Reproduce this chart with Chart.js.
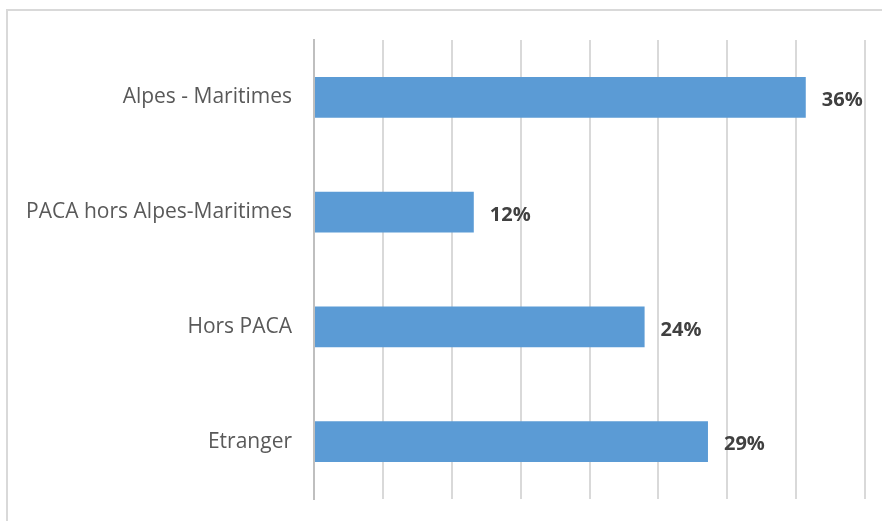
<!DOCTYPE html>
<html lang="fr">
<head>
    <meta charset="UTF-8">
    <title>Origine</title>
    <script src="https://cdn.jsdelivr.net/npm/chart.js"></script>
    <style>
        body { margin: 0; background: #fff; }
        .wrap { position: relative; width: 882px; height: 521px; overflow: hidden; }
        .frame { position: absolute; left: 6px; top: 9px; width: 900px; height: 540px; border: 2px solid #d9d9d9; }
        canvas { position: absolute; left: 0; top: 0; }
    </style>
</head>
<body>
    <div class="wrap">
        <div class="frame"></div>
        <canvas id="bars" width="882" height="521"></canvas>
    </div>

    <script>
    // donnees
    const categories = ['Alpes - Maritimes', 'PACA hors Alpes-Maritimes', 'Hors PACA', 'Etranger'];
    const values = [35.7, 11.6, 24.0, 28.6];
    const valueLabels = ['36%', '12%', '24%', '29%'];

    // petits libelles a droite des barres
    const barLabels = {
        id: 'barLabels',
        afterDatasetsDraw(chart) {
            const ctx = chart.ctx;
            const meta = chart.getDatasetMeta(0);
            ctx.save();
            ctx.font = 'bold 20px "Open Sans"';
            ctx.fillStyle = '#404040';
            ctx.textBaseline = 'middle';
            meta.data.forEach((bar, i) => {
                ctx.fillText(valueLabels[i], bar.x + 16, bar.y + 3);
            });
            ctx.restore();
        }
    };

    new Chart(document.getElementById('bars'), {
        type: 'bar',
        data: {
            labels: categories,
            datasets: [{
                data: values,
                backgroundColor: '#5b9bd5',
                barPercentage: 0.357,
                categoryPercentage: 1
            }]
        },
        options: {
            indexAxis: 'y',
            responsive: false,
            animation: false,
            layout: { padding: { top: 40, right: 17, bottom: 22, left: 0 } },
            plugins: { legend: { display: false }, tooltip: { enabled: false } },
            scales: {
                x: {
                    min: 0,
                    max: 40,
                    ticks: { display: false, stepSize: 5 },
                    grid: { color: '#d9d9d9', lineWidth: 2, drawTicks: false },
                    border: { display: false },
                    afterFit(scale) { scale.height = 0; }
                },
                y: {
                    grid: { display: false, drawTicks: false },
                    border: { display: true, color: '#bfbfbf', width: 2 },
                    ticks: { color: '#595959', font: { family: 'Open Sans', size: 21 }, padding: 22 },
                    afterFit(scale) {
                        scale.width = 314;
                        scale.paddingTop = 0;
                        scale.paddingBottom = 0;
                    }
                }
            }
        },
        plugins: [barLabels]
    });
    </script>
</body>
</html>
